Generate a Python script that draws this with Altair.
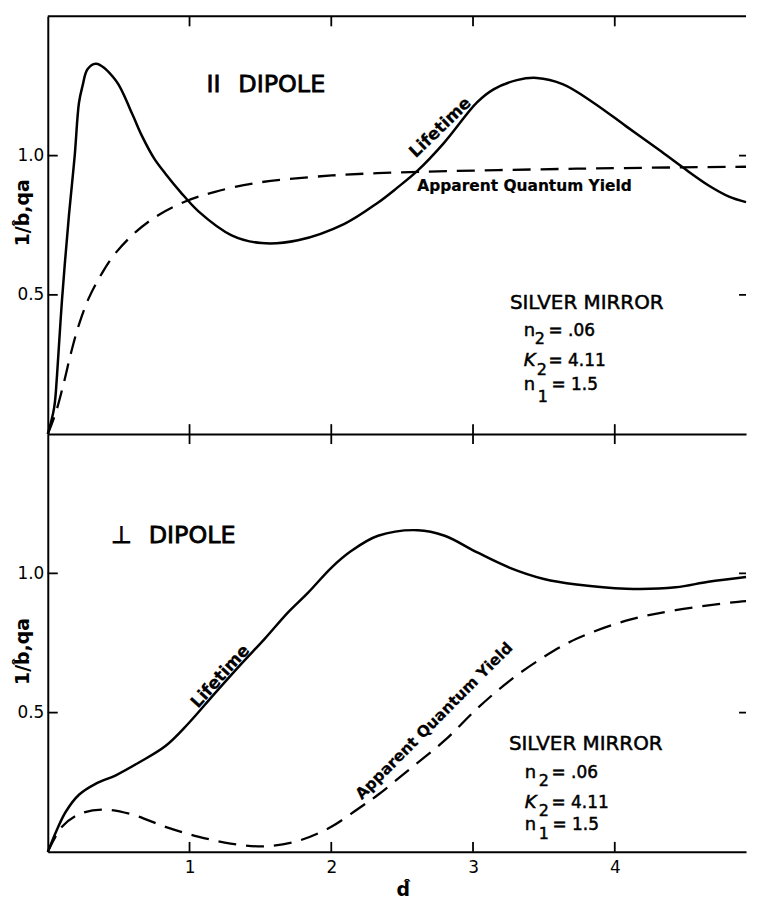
import altair as alt
import pandas as pd

FONT = "DejaVu Sans"
W, H = 702, 420
XMAX, YMAX = 4.926, 1.5

X_TICKS = [1, 2, 3, 4]
Y_TICKS = [0.5, 1.0]

# ---- parallel dipole (top panel) ----
par_life_x = [0, 0.045, 0.065, 0.10, 0.15, 0.19, 0.22, 0.245, 0.28, 0.34, 0.48, 0.595, 0.665, 0.75,
              0.83, 0.935, 1.063, 1.297, 1.507, 1.765, 2.093, 2.326, 2.466, 2.607, 2.794, 3.028,
              3.145, 3.309, 3.449, 3.636, 3.847, 4.081, 4.314, 4.479, 4.665, 4.806, 4.926]
par_life_y = [0, 0.095, 0.21, 0.48, 0.79, 1.00, 1.19, 1.25, 1.31, 1.33, 1.27, 1.15, 1.07, 0.99,
              0.935, 0.87, 0.80, 0.714, 0.686, 0.696, 0.755, 0.83, 0.885, 0.945, 1.045, 1.191,
              1.238, 1.271, 1.279, 1.256, 1.191, 1.105, 1.02, 0.958, 0.892, 0.853, 0.833]
par_aqy_x = [0, 0.058, 0.116, 0.163, 0.221, 0.291, 0.385, 0.478, 0.619, 0.782, 0.97, 1.18, 1.484,
             1.882, 2.326, 3.73, 4.926]
par_aqy_y = [0, 0.08, 0.19, 0.29, 0.395, 0.49, 0.58, 0.65, 0.725, 0.787, 0.835, 0.87, 0.903,
             0.924, 0.937, 0.953, 0.96]

# ---- perpendicular dipole (bottom panel) ----
per_life_x = [0, 0.07, 0.128, 0.22, 0.34, 0.48, 0.64, 0.83, 0.99, 1.18, 1.365, 1.53, 1.695, 1.835,
              2.0, 2.14, 2.33, 2.61, 2.80, 3.03, 3.26, 3.50, 3.73, 4.08, 4.43, 4.66, 4.926]
per_life_y = [0, 0.086, 0.145, 0.205, 0.245, 0.275, 0.32, 0.38, 0.46, 0.57, 0.675, 0.765, 0.86, 0.93,
              1.02, 1.08, 1.135, 1.155, 1.135, 1.075, 1.02, 0.98, 0.96, 0.945, 0.95, 0.97, 0.987]
per_aqy_x = [0, 0.10, 0.22, 0.385, 0.59, 0.83, 1.06, 1.29, 1.53, 1.77, 2.0, 2.19, 2.33, 2.56, 2.80,
             3.03, 3.26, 3.50, 3.73, 4.08, 4.43, 4.87, 4.926]
per_aqy_y = [0, 0.09, 0.135, 0.152, 0.135, 0.09, 0.055, 0.03, 0.02, 0.04, 0.09, 0.155, 0.205, 0.30,
             0.40, 0.515, 0.615, 0.70, 0.765, 0.83, 0.868, 0.898, 0.90]

# ---- annotation texts (data coordinates) ----
top_heading = [("II", 1.12, 1.23), ("DIPOLE", 1.344, 1.23)]
bot_heading = [("\u22a5", 0.446, 1.11), ("DIPOLE", 0.712, 1.11)]

top_mirror = [("SILVER MIRROR", 3.26, 0.449)]
top_sym = [("n", 3.358, 0.353), ("n", 3.358, 0.159)]
top_sym_k = [("K", 3.358, 0.244)]
top_sub = [("2", 3.435, 0.325), ("2", 3.449, 0.212), ("1", 3.456, 0.115)]
top_val = [("= .06", 3.533, 0.353), ("= 4.11", 3.533, 0.244), ("= 1.5", 3.554, 0.159)]

bot_mirror = [("SILVER MIRROR", 3.253, 0.367)]
bot_sym = [("n", 3.365, 0.265), ("n", 3.365, 0.078)]
bot_sym_k = [("K", 3.365, 0.158)]
bot_sub = [("2", 3.463, 0.237), ("2", 3.463, 0.128), ("1", 3.463, 0.045)]
bot_val = [("= .06", 3.554, 0.265), ("= 4.11", 3.554, 0.158), ("= 1.5", 3.561, 0.078)]

top_curve_labels = [("Lifetime", 2.77, 1.10, 316)]
top_aqy_label = [("Apparent Quantum Yield", 2.607, 0.873)]
bot_curve_labels = [("Lifetime", 1.218, 0.629, 312), ("Apparent Quantum Yield", 2.726, 0.47, 315)]


def make_panel(life_x, life_y, aqy_x, aqy_y, heading, mirror, sym, sym_k, sub, val,
               rot_labels, flat_labels, bottom, title_y):
    xscale = alt.Scale(domain=[0, XMAX], nice=False, zero=False)
    yscale = alt.Scale(domain=[0, YMAX], nice=False, zero=False)
    xaxis = alt.Axis(values=X_TICKS, labels=bottom, ticks=False, tickSize=0, domain=True,
                     domainColor="black", domainWidth=2, grid=False, labelFont=FONT,
                     labelFontSize=17, labelColor="black", labelPadding=8,
                     title=("d\u0302" if bottom else None), titleFont=FONT, titleFontSize=19,
                     titleFontWeight="bold", titleColor="black", titleBaseline="alphabetic",
                     titleAlign="center", titleX=357, titleY=44)
    yaxis = alt.Axis(values=Y_TICKS, format=".1f", ticks=False, tickSize=0, domain=True,
                     domainColor="black", domainWidth=2, grid=False, labelFont=FONT,
                     labelFontSize=17, labelColor="black", labelPadding=4,
                     title="1/b\u0302,qa", titleFont=FONT, titleFontSize=19, titleFontWeight="bold",
                     titleColor="black", titleAngle=270, titleBaseline="middle",
                     titleAlign="center", titleX=-25, titleY=title_y)

    def X(f):
        return alt.X(f, type="quantitative", scale=xscale, axis=xaxis)

    def Y(f):
        return alt.Y(f, type="quantitative", scale=yscale, axis=yaxis)

    life = alt.Chart(pd.DataFrame({"x": life_x, "y": life_y})).mark_line(
        color="black", strokeWidth=2.5, interpolate="catmull-rom").encode(x=X("x"), y=Y("y"))
    aqy = alt.Chart(pd.DataFrame({"x": aqy_x, "y": aqy_y})).mark_line(
        color="black", strokeWidth=2.3, strokeDash=[18, 10], interpolate="catmull-rom").encode(
        x=X("x"), y=Y("y"))

    layers = [life, aqy]

    if not bottom:
        layers.append(alt.Chart(pd.DataFrame({"y": [YMAX]})).mark_rule(
            color="black", strokeWidth=2).encode(y=Y("y")))

    xt = alt.Chart(pd.DataFrame({"x": X_TICKS}))
    layers.append(xt.mark_rule(color="black", strokeWidth=1.8).encode(
        x=X("x"), y=alt.value(0), y2=alt.value(10)))
    layers.append(xt.mark_rule(color="black", strokeWidth=1.8).encode(
        x=X("x"), y=alt.value(H), y2=alt.value(H - 10)))
    yt = alt.Chart(pd.DataFrame({"y": Y_TICKS}))
    layers.append(yt.mark_rule(color="black", strokeWidth=1.8).encode(
        y=Y("y"), x=alt.value(0), x2=alt.value(10)))
    layers.append(yt.mark_rule(color="black", strokeWidth=1.8).encode(
        y=Y("y"), x=alt.value(W), x2=alt.value(W - 7)))

    def txt(rows, **props):
        df = pd.DataFrame(rows, columns=["t", "x", "y"])
        base = dict(font=FONT, color="black", align="left", baseline="alphabetic",
                    stroke="black", strokeWidth=0.5)
        base.update(props)
        return alt.Chart(df).mark_text(**base).encode(x=X("x"), y=Y("y"), text="t:N")

    layers.append(txt(heading, fontSize=24, strokeWidth=0.8))
    layers.append(txt(mirror, fontSize=20))
    layers.append(txt(sym, fontSize=18))
    layers.append(txt(sym_k, fontSize=18, fontStyle="italic"))
    layers.append(txt(sub, fontSize=16))
    layers.append(txt(val, fontSize=17))
    if flat_labels:
        layers.append(txt(flat_labels, fontSize=15.5, fontWeight="bold", strokeWidth=0.2))
    for (t, x, y, ang) in rot_labels:
        layers.append(txt([(t, x, y)], fontSize=15.5 if len(t) > 10 else 17, fontWeight="bold",
                          strokeWidth=0.2, align="center", baseline="middle", angle=ang))

    return alt.layer(*layers).properties(width=W, height=H)


top = make_panel(par_life_x, par_life_y, par_aqy_x, par_aqy_y, top_heading, top_mirror, top_sym,
                 top_sym_k, top_sub, top_val, top_curve_labels, top_aqy_label, False, 197)
bot = make_panel(per_life_x, per_life_y, per_aqy_x, per_aqy_y, bot_heading, bot_mirror, bot_sym,
                 bot_sym_k, bot_sub, bot_val, bot_curve_labels, None, True, 218)

chart = alt.vconcat(top, bot, spacing=0, bounds="flush").properties(
    padding={"left": 6, "top": 5, "right": 0, "bottom": 0}
).configure_view(stroke=None)

chart.save("out.html", embed_options={"renderer": "svg", "actions": False})
